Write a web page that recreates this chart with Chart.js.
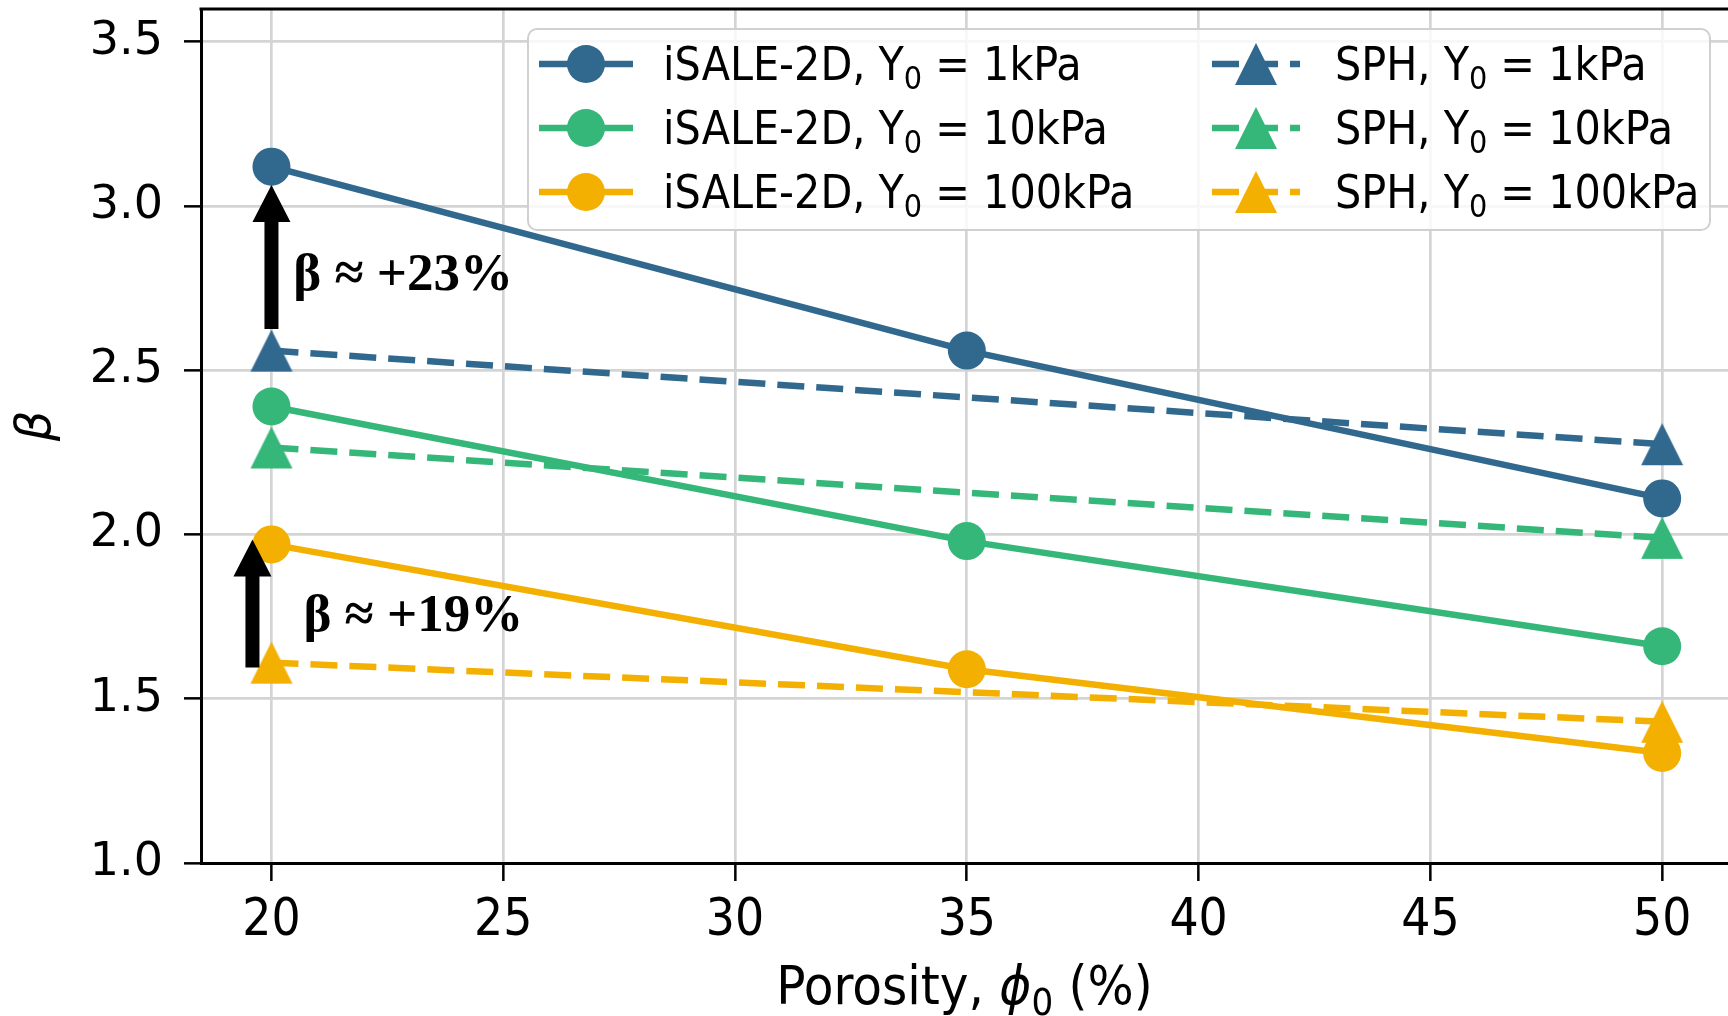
<!DOCTYPE html>
<html>
<head>
<meta charset="utf-8">
<script src="https://cdn.jsdelivr.net/npm/chart.js@4.4.1/dist/chart.umd.min.js"></script>
<style>
  html, body { margin: 0; padding: 0; background: #ffffff; }
  #wrap { width: 1728px; height: 1016px; position: relative; }
</style>
</head>
<body>
<div id="wrap"><canvas id="c"></canvas></div>
<script>
// ---------------- data ----------------
const porosity = [20, 35, 50];
const sphPorosity = [20, 50];
const isale1 = [3.12, 2.56, 2.11];
const isale10 = [2.39, 1.98, 1.66];
const isale100 = [1.97, 1.59, 1.335];
const sph1 = [2.56, 2.275];
const sph10 = [2.265, 1.99];
const sph100 = [1.61, 1.43];
const xTicks = [20, 25, 30, 35, 40, 45, 50];
const yTicks = [1.0, 1.5, 2.0, 2.5, 3.0, 3.5];
const seriesLabels = [
  'iSALE-2D, Y₀ = 1kPa', 'iSALE-2D, Y₀ = 10kPa', 'iSALE-2D, Y₀ = 100kPa',
  'SPH, Y₀ = 1kPa', 'SPH, Y₀ = 10kPa', 'SPH, Y₀ = 100kPa'
];
const xTitleParts = ['Porosity, ', 'ϕ', '0', ' (%)'];
const yTitle = 'β';
// annotation arrows (x, from, to) and labels (x, y, text) in data units
const arrowX = [20, 19.59];
const arrowFrom = [2.626, 1.595];
const arrowTo = [3.064, 1.985];
const noteX = [20.47, 20.69];
const noteY = [2.745, 1.707];
const noteText = ['β ≈ +23%', 'β ≈ +19%'];

// ---------------- styles ----------------
const BLUE = '#31688e', GREEN = '#35b779', YELLOW = '#f4b000';
const colors = [BLUE, GREEN, YELLOW];
const DASH = [27, 12];
const LW = 6.5;
const COND = '"DejaVu Sans Condensed", "DejaVu Sans"';

function triangleImg(color) {
  const s = 44;
  const cv = document.createElement('canvas');
  cv.width = s; cv.height = s;
  const c = cv.getContext('2d');
  c.fillStyle = color;
  c.beginPath();
  c.moveTo(s / 2, 1);
  c.lineTo(s - 1, s - 1);
  c.lineTo(1, s - 1);
  c.closePath();
  c.fill();
  return cv;
}
const tri = colors.map(triangleImg);

const toPts = (xs, ys) => xs.map((x, i) => ({ x: x, y: ys[i] }));
const isaleData = [isale1, isale10, isale100];
const sphData = [sph1, sph10, sph100];

const datasets = [];
isaleData.forEach((d, i) => datasets.push({
  label: seriesLabels[i], data: toPts(porosity, d),
  borderColor: colors[i], backgroundColor: colors[i],
  borderWidth: LW, pointStyle: 'circle', pointRadius: 19, pointBorderWidth: 0,
  pointHoverRadius: 19, order: 2, kind: 'circle'
}));
sphData.forEach((d, i) => datasets.push({
  label: seriesLabels[3 + i], data: toPts(sphPorosity, d),
  borderColor: colors[i], backgroundColor: colors[i],
  borderWidth: LW, borderDash: DASH, pointStyle: tri[i], pointRadius: 22,
  pointHoverRadius: 22, order: 1, kind: 'tri'
}));

function drawSubText(ctx, text, x, y, size, family) {
  const parts = text.split('₀');
  ctx.font = size + 'px ' + family;
  ctx.fillText(parts[0], x, y);
  let cx = x + ctx.measureText(parts[0]).width;
  if (parts.length > 1) {
    const ss = Math.round(size * 0.7);
    ctx.font = ss + 'px ' + family;
    ctx.fillText('0', cx, y + size * 0.2);
    cx += ctx.measureText('0').width;
    ctx.font = size + 'px ' + family;
    ctx.fillText(parts[1], cx, y);
  }
}

const zeroPad = s => { s.paddingLeft = 0; s.paddingRight = 0; s.paddingTop = 0; s.paddingBottom = 0; };

const deco = {
  id: 'deco',
  afterDatasetsDraw(chart) {
    const ctx = chart.ctx, xs = chart.scales.x, ys = chart.scales.y;
    ctx.save();
    ctx.fillStyle = '#000';
    arrowX.forEach((ax, i) => {
      const px = xs.getPixelForValue(ax);
      const yb = ys.getPixelForValue(arrowFrom[i]);
      const yt = ys.getPixelForValue(arrowTo[i]);
      const hl = 37, hw = 19, sw = 7;
      ctx.beginPath();
      ctx.moveTo(px - sw, yb);
      ctx.lineTo(px - sw, yt + hl);
      ctx.lineTo(px - hw, yt + hl);
      ctx.lineTo(px, yt);
      ctx.lineTo(px + hw, yt + hl);
      ctx.lineTo(px + sw, yt + hl);
      ctx.lineTo(px + sw, yb);
      ctx.closePath();
      ctx.fill();
    });
    ctx.font = 'bold 53px "Liberation Serif", "Times New Roman", serif';
    ctx.textBaseline = 'alphabetic';
    ctx.textAlign = 'left';
    noteText.forEach((t, i) => {
      ctx.fillText(t, xs.getPixelForValue(noteX[i]), ys.getPixelForValue(noteY[i]));
    });
    ctx.restore();
  },
  afterDraw(chart) {
    const ctx = chart.ctx, a = chart.chartArea;
    ctx.save();
    // top spine
    ctx.strokeStyle = '#000';
    ctx.lineWidth = 3;
    ctx.beginPath();
    ctx.moveTo(a.left - 1.5, a.top);
    ctx.lineTo(a.right, a.top);
    ctx.stroke();

    // legend
    const bx = 528, by = 29, bw = 1182, bh = 201, r = 9;
    ctx.fillStyle = 'rgba(255,255,255,0.8)';
    ctx.strokeStyle = '#d0d0d0';
    ctx.lineWidth = 2;
    ctx.beginPath();
    ctx.roundRect(bx, by, bw, bh, r);
    ctx.fill();
    ctx.stroke();
    const rows = [64, 128, 192];
    const cols = [{ l0: 539, l1: 633, m: 586, t: 663 }, { l0: 1212, l1: 1300, m: 1256, t: 1335 }];
    chart.data.datasets.forEach((ds, i) => {
      const col = cols[i < 3 ? 0 : 1];
      const y = rows[i % 3];
      ctx.strokeStyle = ds.borderColor;
      ctx.lineWidth = LW;
      ctx.setLineDash(ds.kind === 'tri' ? [27, 12] : []);
      ctx.beginPath();
      ctx.moveTo(col.l0, y);
      ctx.lineTo(col.l1, y);
      ctx.stroke();
      ctx.setLineDash([]);
      if (ds.kind === 'circle') {
        ctx.fillStyle = ds.backgroundColor;
        ctx.beginPath();
        ctx.arc(col.m, y, 19, 0, Math.PI * 2);
        ctx.fill();
      } else {
        const img = ds.pointStyle;
        ctx.drawImage(img, col.m - img.width / 2, y - img.height / 2);
      }
      ctx.fillStyle = '#000';
      ctx.textBaseline = 'alphabetic';
      ctx.textAlign = 'left';
      drawSubText(ctx, ds.label, col.t, y + 16, 46, COND);
    });

    // x title
    ctx.fillStyle = '#000';
    ctx.textBaseline = 'alphabetic';
    const fs = 54, base = 1004;
    const fReg = fs + 'px ' + COND, fIt = 'italic ' + fs + 'px ' + COND, fSub = Math.round(fs * 0.7) + 'px ' + COND;
    ctx.font = fReg; const w0 = ctx.measureText(xTitleParts[0]).width;
    ctx.font = fIt; const w1 = ctx.measureText(xTitleParts[1]).width;
    ctx.font = fSub; const w2 = ctx.measureText(xTitleParts[2]).width;
    ctx.font = fReg; const w3 = ctx.measureText(xTitleParts[3]).width;
    let x = (a.left + a.right) / 2 - (w0 + w1 + w2 + w3) / 2;
    ctx.font = fReg; ctx.fillText(xTitleParts[0], x, base); x += w0;
    ctx.font = fIt; ctx.fillText(xTitleParts[1], x, base); x += w1;
    ctx.font = fSub; ctx.fillText(xTitleParts[2], x, base + fs * 0.2); x += w2;
    ctx.font = fReg; ctx.fillText(xTitleParts[3], x, base);

    // y title
    ctx.translate(38, 426);
    ctx.rotate(-Math.PI / 2);
    ctx.font = 'italic 48px "DejaVu Sans"';
    ctx.textAlign = 'center';
    ctx.textBaseline = 'middle';
    ctx.fillText(yTitle, 0, 0);
    ctx.restore();
  }
};

new Chart(document.getElementById('c'), {
  type: 'line',
  data: { datasets: datasets },
  plugins: [deco],
  options: {
    responsive: true,
    maintainAspectRatio: false,
    animation: false,
    devicePixelRatio: 1,
    layout: { autoPadding: false, padding: { top: 9, left: 0, right: 0, bottom: 0 } },
    plugins: { legend: { display: false }, tooltip: { enabled: false } },
    scales: {
      x: {
        type: 'linear', min: 18.48, max: 51.42,
        afterBuildTicks: s => { s.ticks = xTicks.map(v => ({ value: v })); },
        afterFit: s => { s.height = 153; zeroPad(s); },
        grid: { color: '#d4d4d4', lineWidth: 2.7, drawTicks: true, tickLength: 18, tickColor: '#000', tickWidth: 2.5 },
        border: { display: true, color: '#000', width: 3 },
        ticks: {
          color: '#000', padding: 10, maxRotation: 0, autoSkip: false,
          font: { family: COND, size: 51 },
          callback: v => String(v)
        }
      },
      y: {
        type: 'linear', min: 1.0, max: 3.6,
        afterBuildTicks: s => { s.ticks = yTicks.map(v => ({ value: v })); },
        afterFit: s => { s.width = 201; zeroPad(s); },
        grid: { color: '#d4d4d4', lineWidth: 2.7, drawTicks: true, tickLength: 17, tickColor: '#000', tickWidth: 2.5 },
        border: { display: true, color: '#000', width: 3 },
        ticks: {
          color: '#000', padding: 21, autoSkip: false,
          font: { family: '"DejaVu Sans"', size: 46 },
          callback: v => Number(v).toFixed(1)
        }
      }
    }
  }
});
</script>
</body>
</html>
